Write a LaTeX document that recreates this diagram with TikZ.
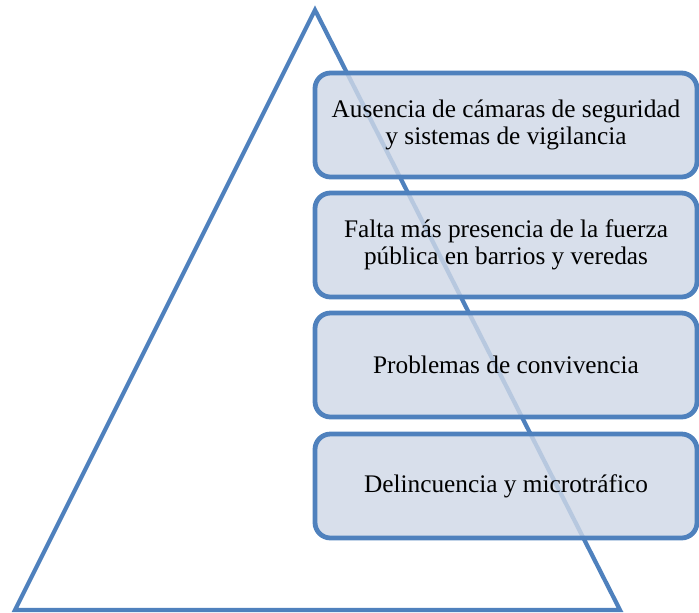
\documentclass[tikz,border=0pt]{standalone}
\usepackage{fontspec}
\setmainfont{Liberation Serif}
\usepackage{tikz}
\definecolor{pyrBlue}{RGB}{79, 129, 189}
\definecolor{boxFill}{RGB}{207, 216, 231}

\begin{document}
\begin{tikzpicture}[x=0.025cm, y=-0.025cm,
    causa/.style={draw=pyrBlue, line width=3.4pt, fill=boxFill, fill opacity=0.82,
      text opacity=1, rounded corners=11pt, minimum width=382*0.025cm,
      minimum height=104*0.025cm, align=center, font=\fontsize{18}{19.5}\selectfont}]
      \useasboundingbox (0,0) rectangle (699,613);

      % Triangle
      \coordinate (apex) at (315,10);
      \coordinate (baseL) at (15,610);
      \coordinate (baseR) at (620,610);
      \draw[pyrBlue, line width=3pt, line join=miter] (apex) -- (baseR) -- (baseL) -- cycle;

      % Boxes
      \node[causa] (camaras) at (506,125) {Ausencia de cámaras de seguridad\\y sistemas de vigilancia};
      \node[causa] (fuerza) at (506,245) {Falta más presencia de la fuerza\\pública en barrios y veredas};
      \node[causa] (convivencia) at (506,365) {Problemas de convivencia};
      \node[causa] (delincuencia) at (506,486) {Delincuencia y microtráfico};
    \end{tikzpicture}
\end{document}
